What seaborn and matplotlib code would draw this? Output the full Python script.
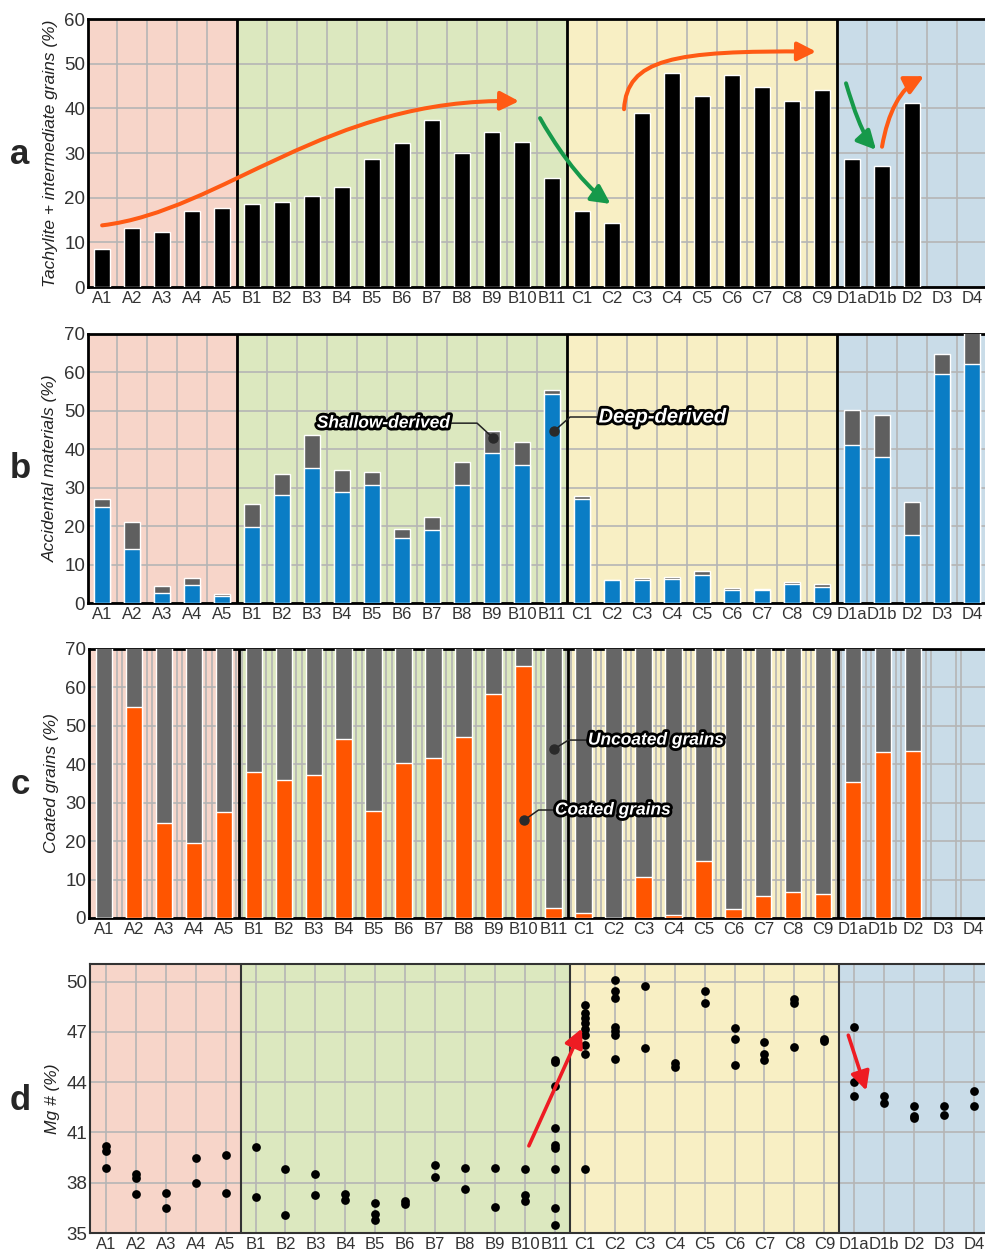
import numpy as np
import pandas as pd
import matplotlib.pyplot as plt
import matplotlib.patheffects as pe
from matplotlib.patches import FancyArrowPatch
from matplotlib.path import Path
import seaborn as sns

samples = ['A1', 'A2', 'A3', 'A4', 'A5',
           'B1', 'B2', 'B3', 'B4', 'B5', 'B6', 'B7', 'B8', 'B9', 'B10', 'B11',
           'C1', 'C2', 'C3', 'C4', 'C5', 'C6', 'C7', 'C8', 'C9',
           'D1a', 'D1b', 'D2', 'D3', 'D4']
nan = np.nan

# a: tachylite + intermediate grains (%)
tachylite = [8.5, 13.2, 12.3, 17.1, 17.6,
             18.6, 19.1, 20.4, 22.4, 28.7, 32.2, 37.4, 30.0, 34.6, 32.4, 24.3,
             17.1, 14.3, 39.0, 47.9, 42.7, 47.4, 44.7, 41.7, 44.2,
             28.7, 27.1, 41.1, nan, nan]

# b: accidental materials (%), total and deep-derived part
accidental_total = [27.0, 21.1, 4.3, 6.4, 2.3,
                    25.8, 33.6, 43.6, 34.7, 34.0, 19.3, 22.5, 36.6, 44.8, 41.8, 55.4,
                    27.9, 6.0, 6.4, 6.8, 8.4, 3.9, 3.6, 5.5, 4.9,
                    50.3, 49.0, 26.4, 64.7, 72.0]
deep_derived = [25.0, 14.0, 2.6, 4.7, 1.7,
                19.8, 28.2, 35.1, 29.0, 30.8, 16.9, 18.9, 30.6, 39.0, 36.0, 54.4,
                27.0, 5.9, 6.0, 6.3, 7.4, 3.3, 3.3, 5.0, 4.1,
                41.1, 38.1, 17.7, 59.7, 62.3]

# c: coated grains (%) out of all grains (100 %)
coated = [0.0, 55.0, 24.8, 19.4, 27.6,
          38.1, 35.9, 37.1, 46.7, 27.9, 40.4, 41.7, 47.0, 58.2, 65.6, 2.6,
          1.3, 0.0, 10.7, 0.7, 14.9, 2.3, 5.7, 6.7, 6.2,
          35.3, 43.1, 43.5, nan, nan]
all_grains = [100] * 28 + [nan, nan]

# d: Mg# (%) of each analysed grain, per sample
mg_values = [[40.2, 39.9, 38.85], [38.55, 38.3, 37.35], [37.4, 36.5], [39.5, 38.0], [39.65, 37.4],
             [40.15, 37.15], [38.8, 36.1], [38.5, 37.25], [37.35, 36.97], [36.8, 36.15, 35.8],
             [36.9, 36.75], [39.05, 38.35], [38.9, 37.65], [38.85, 36.55], [38.8, 37.25, 36.9],
             [45.35, 45.2, 43.8, 41.25, 40.25, 40.1, 38.8, 36.5, 35.5],
             [48.6, 48.1, 47.8, 47.5, 47.2, 46.8, 46.2, 45.7, 38.8],
             [50.1, 49.45, 49.0, 47.3, 47.05, 46.8, 45.4], [49.75, 46.05], [45.15, 44.9],
             [49.45, 48.75], [47.25, 46.55, 45.05], [46.4, 45.7, 45.3], [48.95, 48.75, 46.1],
             [46.6, 46.45],
             [47.3, 44.0, 43.2], [43.15, 42.75], [42.6, 42.0, 41.85], [42.55, 42.05], [43.5, 42.55]]

group_colors = {'A': '#f7d5c9', 'B': '#dce8bf', 'C': '#f8efc4', 'D': '#c9dce8'}
ORANGE = '#ff5a14'
GREEN = '#16994a'
RED = '#ee1c23'
BLUE = '#0a7dc5'
GREY = '#5f5f5f'
GRID = '#b5b5b5'

sns.set_theme(style='white')
plt.rcParams['font.family'] = ['Liberation Sans', 'DejaVu Sans']

df = pd.DataFrame({'sample': samples, 'tachylite': tachylite, 'acc_total': accidental_total,
                   'deep': deep_derived, 'coated': coated, 'all': all_grains})
mg_df = pd.DataFrame([(s, v) for s, vals in zip(samples, mg_values) for v in vals],
                     columns=['sample', 'mg'])

fig = plt.figure(figsize=(9.85, 12.53), dpi=100)
W, H = 985, 1253


def make_ax(left, top, bottom, width=899):
    return fig.add_axes([left / W, 1 - bottom / H, width / W, (bottom - top) / H])


ax_a = make_ax(88, 19, 287)
ax_b = make_ax(88, 334, 603)
ax_c = make_ax(89, 649, 918)
ax_d = make_ax(90, 964, 1233)

# bars
sns.barplot(data=df, x='sample', y='tachylite', order=samples, color='black', width=0.54,
            saturation=1, errorbar=None, ax=ax_a, zorder=3)
sns.barplot(data=df, x='sample', y='acc_total', order=samples, color=GREY, width=0.55,
            saturation=1, errorbar=None, ax=ax_b, zorder=3)
sns.barplot(data=df, x='sample', y='deep', order=samples, color=BLUE, width=0.55,
            saturation=1, errorbar=None, ax=ax_b, zorder=3)
sns.barplot(data=df, x='sample', y='all', order=samples, color='#666666', width=0.55,
            saturation=1, errorbar=None, ax=ax_c, zorder=3)
sns.barplot(data=df, x='sample', y='coated', order=samples, color='#ff5500', width=0.55,
            saturation=1, errorbar=None, ax=ax_c, zorder=3)
sns.stripplot(data=mg_df, x='sample', y='mg', order=samples, jitter=False, color='black',
              size=6.3, linewidth=0, ax=ax_d, zorder=4)

# group spans
letters = [s[0] for s in samples]
spans = []
for g in ['A', 'B', 'C', 'D']:
    idx = [i for i, l in enumerate(letters) if l == g]
    spans.append((g, idx[0] - 0.5, idx[-1] + 0.5))

ylabels = ['Tachylite + intermediate grains (%)', 'Accidental materials (%)',
           'Coated grains (%)', 'Mg # (%)']
ylims = [(0, 60), (0, 70), (0, 70), (35, 51.05)]
yticks = [np.arange(0, 61, 10), np.arange(0, 71, 10), np.arange(0, 71, 10), np.arange(35, 51, 3)]
xlims = [(-0.47, 29.5), (-0.47, 29.5), (-0.5, 29.5), (-0.53, 29.5)]
panel_y = [155, 468, 785, 1100]
pos = np.arange(len(samples))

for k, ax in enumerate([ax_a, ax_b, ax_c, ax_d]):
    for g, x0, x1 in spans:
        ax.axvspan(x0, x1, color=group_colors[g], zorder=0, lw=0)
    ax.set_axisbelow(True)
    ax.set_xlim(*xlims[k])
    ax.set_ylim(*ylims[k])
    ax.set_yticks(yticks[k])
    ax.set_xticks(pos)
    ax.set_xticklabels(samples)
    if k in (0, 1):
        ax.set_xticks(pos + 0.5, minor=True)
        ax.grid(which='minor', axis='x', color=GRID, lw=1.2)
    elif k == 2:
        ax.set_xticks(np.concatenate([pos + 0.42, pos + 0.6]), minor=True)
        ax.grid(which='minor', axis='x', color=GRID, lw=1.2)
    else:
        ax.grid(which='major', axis='x', color=GRID, lw=1.2)
    ax.grid(which='major', axis='y', color=GRID, lw=1.2)
    ax.tick_params(which='both', length=0)
    ax.tick_params(axis='x', labelsize=12, pad=3, colors='#333333')
    ax.tick_params(axis='y', labelsize=13.5, pad=2, colors='#333333')
    ax.set_xlabel('')
    ax.set_ylabel(ylabels[k], fontsize=12.5, style='italic', color='#222222')
    ax.yaxis.set_label_coords(-0.033, 0.5)
    spine_c = 'black' if k < 3 else '#333333'
    spine_w = 2.0 if k < 3 else 1.5
    for sp in ['top', 'left', 'bottom']:
        ax.spines[sp].set_color(spine_c)
        ax.spines[sp].set_linewidth(spine_w)
    ax.spines['right'].set_visible(False)
    for _, x0, x1 in spans[1:]:
        ax.axvline(x0, color=spine_c, lw=spine_w, zorder=4)
    fig.text(20 / W, 1 - panel_y[k] / H, 'abcd'[k], fontsize=25, fontweight='bold',
             ha='center', va='center')


def curved_arrow(ax, pts, color, lw=2.9):
    path = Path(pts, [Path.MOVETO, Path.CURVE4, Path.CURVE4, Path.CURVE4])
    arr = FancyArrowPatch(path=path, arrowstyle='-|>,head_length=0.75,head_width=0.38',
                          mutation_scale=15, color=color, lw=lw, transform=ax.transData,
                          zorder=6)
    ax.add_patch(arr)


# trend arrows in a
curved_arrow(ax_a, [(0, 13.8), (4, 17), (7.5, 42.5), (13.9, 41.6)], ORANGE)
curved_arrow(ax_a, [(14.6, 37.8), (15.0, 33), (15.9, 23.5), (16.95, 18.6)], GREEN)
curved_arrow(ax_a, [(17.4, 39.8), (17.5, 51), (19.0, 53), (23.8, 52.7)], ORANGE)
curved_arrow(ax_a, [(24.8, 45.6), (25.05, 40), (25.35, 34), (25.8, 30.7)], GREEN)
curved_arrow(ax_a, [(26.0, 31.4), (26.2, 39), (26.6, 44.5), (27.4, 47.2)], ORANGE)

# arrows in d
for start, end in [((14.13, 40.2), (15.9, 47.2)), ((24.8, 46.8), (25.4, 43.5))]:
    ax_d.annotate('', xy=end, xytext=start, zorder=6,
                  arrowprops=dict(arrowstyle='-|>,head_length=0.75,head_width=0.38',
                                  mutation_scale=15, color=RED, lw=2.6,
                                  shrinkA=0, shrinkB=0))


def label(ax, text, tx, ty, ha, leader, size=12.5):
    ax.plot([p[0] for p in leader], [p[1] for p in leader], color='#222222', lw=1.1, zorder=6)
    ax.plot(*leader[-1], 'o', color='#2a2a2a', ms=6.5, zorder=7)
    ax.text(tx, ty, text, ha=ha, va='center', color='white', fontsize=size,
            fontweight='bold', style='italic', zorder=8,
            path_effects=[pe.withStroke(linewidth=4, foreground='black')])


label(ax_b, 'Shallow-derived', 11.6, 46.8, 'right', [(11.65, 46.8), (12.5, 46.8), (13.03, 43.0)])
label(ax_b, 'Deep-derived', 16.55, 48.4, 'left', [(16.5, 48.4), (15.6, 48.4), (15.07, 44.75)],
      size=14.5)
label(ax_c, 'Uncoated grains', 16.15, 46.3, 'left', [(16.1, 46.3), (15.5, 46.3), (15.03, 44.0)])
label(ax_c, 'Coated grains', 15.05, 28.1, 'left', [(15.0, 28.1), (14.5, 28.1), (14.03, 25.5)])

for k, ax in enumerate([ax_a, ax_b, ax_c, ax_d]):
    ax.set_xlim(*xlims[k])
    ax.set_ylim(*ylims[k])

fig.savefig('out.png', dpi=100)
